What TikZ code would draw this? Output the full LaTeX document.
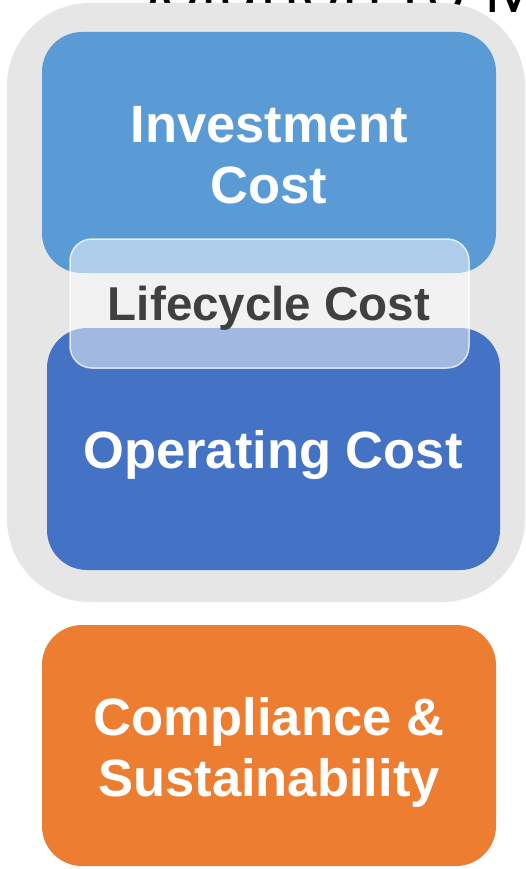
\documentclass[tikz,border=0pt]{standalone}
\usepackage{fontspec}
\setmainfont{Liberation Sans}
\newfontfamily\titlefont{Open Sans}
\usepackage{xcolor}
\definecolor{framegray}{HTML}{E6E6E6}
\definecolor{investblue}{HTML}{5B9BD5}
\definecolor{operateblue}{HTML}{4472C4}
\definecolor{complyorange}{HTML}{ED7D31}
\definecolor{lifetext}{HTML}{404040}

\tikzset{
  costbox/.style={rounded corners=40pt, inner sep=0pt},
  costlabel/.style={anchor=base, align=center, text=white, inner sep=0pt,
    font=\fontsize{52.5}{61}\selectfont\bfseries},
}

\begin{document}
\begin{tikzpicture}[x=1pt, y=-1pt]
  \useasboundingbox (0,0) rectangle (526,869);
  \clip (0,0) rectangle (526,869);

  % title, cut by the top edge
  \node[anchor=base west, inner sep=0pt, font=\titlefont\fontsize{68}{68}\selectfont]
    (title) at (122,13) {Solution to M};

  % grey frame round the two cost blocks
  \node[costbox, rounded corners=83pt, fill=framegray,
    minimum width=518pt, minimum height=599pt] (frame) at (266,302.5) {};

  \node[costbox, fill=investblue, minimum width=454pt, minimum height=241pt]
    (invest) at (269,152.5) {};
  \node[costbox, fill=operateblue, minimum width=453pt, minimum height=242pt]
    (operate) at (273.5,449) {};
  \node[costbox, fill=complyorange, minimum width=454pt, minimum height=241pt]
    (comply) at (269,745.5) {};

  \node[costlabel] (investtext) at (269,203) {Investment\\Cost};
  \node[costlabel] (operatetext) at (273,468) {Operating Cost};
  \node[costlabel] (complytext) at (269,796) {Compliance \&\\Sustainability};

  % translucent band across both blue blocks
  \node[costbox, rounded corners=22pt, fill=white, fill opacity=0.5,
    draw=white, draw opacity=0.75, line width=1.5pt,
    minimum width=399pt, minimum height=129pt] (lifecycle) at (269.5,303.5) {};
  \node[anchor=base, inner sep=0pt, text=lifetext,
    font=\fontsize{47.5}{47.5}\selectfont\bfseries]
    (lifetext) at (269,320) {Lifecycle Cost};
\end{tikzpicture}
\end{document}
